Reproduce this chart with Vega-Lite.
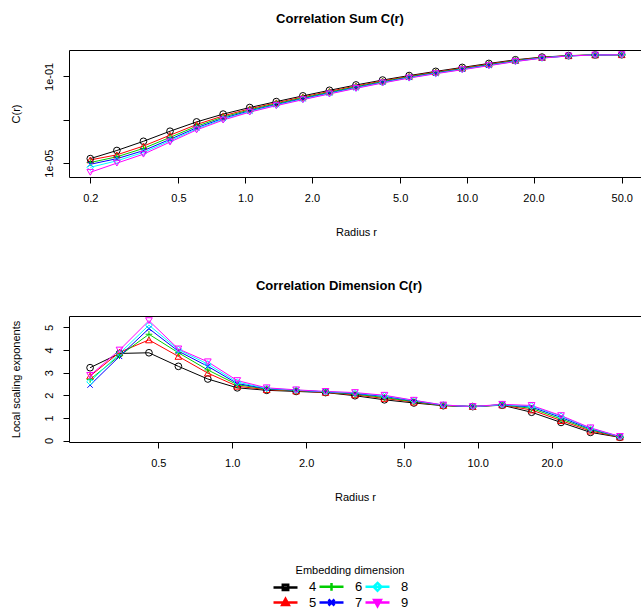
{
  "$schema": "https://vega.github.io/schema/vega-lite/v6.json",
  "background": "white",
  "padding": {"left": 9, "top": 12, "right": 0, "bottom": 0},
  "datasets": {
    "cs": [
      {"r":0.2,"d":"4","c":1.622e-5},{"r":0.26359,"d":"4","c":3.842e-5},{"r":0.3474,"d":"4","c":1.020e-4},{"r":0.45786,"d":"4","c":2.969e-4},{"r":0.60343,"d":"4","c":7.986e-4},{"r":0.79529,"d":"4","c":1.829e-3},{"r":1.04816,"d":"4","c":3.674e-3},{"r":1.38144,"d":"4","c":6.889e-3},{"r":1.82067,"d":"4","c":1.264e-2},{"r":2.39955,"d":"4","c":2.286e-2},{"r":3.16228,"d":"4","c":4.027e-2},{"r":4.16774,"d":"4","c":6.789e-2},{"r":5.49286,"d":"4","c":0.1095},{"r":7.2393,"d":"4","c":0.1703},{"r":9.54098,"d":"4","c":0.2593},{"r":12.5745,"d":"4","c":0.3957},{"r":16.5725,"d":"4","c":0.5834},{"r":21.8417,"d":"4","c":0.7745},{"r":28.7862,"d":"4","c":0.9091},{"r":37.9386,"d":"4","c":0.9741},{"r":50.0,"d":"4","c":1.0},
      {"r":0.2,"d":"5","c":1.413e-5},{"r":0.26359,"d":"5","c":2.419e-5},{"r":0.3474,"d":"5","c":6.146e-5},{"r":0.45786,"d":"5","c":1.948e-4},{"r":0.60343,"d":"5","c":6.023e-4},{"r":0.79529,"d":"5","c":1.520e-3},{"r":1.04816,"d":"5","c":3.196e-3},{"r":1.38144,"d":"5","c":6.076e-3},{"r":1.82067,"d":"5","c":1.122e-2},{"r":2.39955,"d":"5","c":2.038e-2},{"r":3.16228,"d":"5","c":3.615e-2},{"r":4.16774,"d":"5","c":6.180e-2},{"r":5.49286,"d":"5","c":0.1011},{"r":7.2393,"d":"5","c":0.1583},{"r":9.54098,"d":"5","c":0.2413},{"r":12.5745,"d":"5","c":0.3688},{"r":16.5725,"d":"5","c":0.5521},{"r":21.8417,"d":"5","c":0.7513},{"r":28.7862,"d":"5","c":0.8991},{"r":37.9386,"d":"5","c":0.9727},{"r":50.0,"d":"5","c":1.0},
      {"r":0.2,"d":"6","c":1.072e-5},{"r":0.26359,"d":"6","c":1.969e-5},{"r":0.3474,"d":"6","c":4.800e-5},{"r":0.45786,"d":"6","c":1.543e-4},{"r":0.60343,"d":"6","c":5.047e-4},{"r":0.79529,"d":"6","c":1.327e-3},{"r":1.04816,"d":"6","c":2.873e-3},{"r":1.38144,"d":"6","c":5.531e-3},{"r":1.82067,"d":"6","c":1.027e-2},{"r":2.39955,"d":"6","c":1.873e-2},{"r":3.16228,"d":"6","c":3.342e-2},{"r":4.16774,"d":"6","c":5.768e-2},{"r":5.49286,"d":"6","c":9.511e-2},{"r":7.2393,"d":"6","c":0.1494},{"r":9.54098,"d":"6","c":0.2277},{"r":12.5745,"d":"6","c":0.3485},{"r":16.5725,"d":"6","c":0.5275},{"r":21.8417,"d":"6","c":0.7318},{"r":28.7862,"d":"6","c":0.8904},{"r":37.9386,"d":"6","c":0.9714},{"r":50.0,"d":"6","c":1.0},
      {"r":0.2,"d":"7","c":8.913e-6},{"r":0.26359,"d":"7","c":1.616e-5},{"r":0.3474,"d":"7","c":3.789e-5},{"r":0.45786,"d":"7","c":1.256e-4},{"r":0.60343,"d":"7","c":4.294e-4},{"r":0.79529,"d":"7","c":1.166e-3},{"r":1.04816,"d":"7","c":2.598e-3},{"r":1.38144,"d":"7","c":5.049e-3},{"r":1.82067,"d":"7","c":9.415e-3},{"r":2.39955,"d":"7","c":1.722e-2},{"r":3.16228,"d":"7","c":3.089e-2},{"r":4.16774,"d":"7","c":5.390e-2},{"r":5.49286,"d":"7","c":8.987e-2},{"r":7.2393,"d":"7","c":0.1420},{"r":9.54098,"d":"7","c":0.2167},{"r":12.5745,"d":"7","c":0.3316},{"r":16.5725,"d":"7","c":0.5061},{"r":21.8417,"d":"7","c":0.7148},{"r":28.7862,"d":"7","c":0.8831},{"r":37.9386,"d":"7","c":0.9701},{"r":50.0,"d":"7","c":1.0},
      {"r":0.2,"d":"8","c":6.457e-6},{"r":0.26359,"d":"8","c":1.286e-5},{"r":0.3474,"d":"8","c":3.136e-5},{"r":0.45786,"d":"8","c":1.080e-4},{"r":0.60343,"d":"8","c":3.807e-4},{"r":0.79529,"d":"8","c":1.058e-3},{"r":1.04816,"d":"8","c":2.411e-3},{"r":1.38144,"d":"8","c":4.738e-3},{"r":1.82067,"d":"8","c":8.872e-3},{"r":2.39955,"d":"8","c":1.627e-2},{"r":3.16228,"d":"8","c":2.931e-2},{"r":4.16774,"d":"8","c":5.150e-2},{"r":5.49286,"d":"8","c":8.646e-2},{"r":7.2393,"d":"8","c":0.1372},{"r":9.54098,"d":"8","c":0.2096},{"r":12.5745,"d":"8","c":0.3208},{"r":16.5725,"d":"8","c":0.4922},{"r":21.8417,"d":"8","c":0.7040},{"r":28.7862,"d":"8","c":0.8794},{"r":37.9386,"d":"8","c":0.9701},{"r":50.0,"d":"8","c":1.0},
      {"r":0.2,"d":"9","c":3.802e-6},{"r":0.26359,"d":"9","c":1.006e-5},{"r":0.3474,"d":"9","c":2.603e-5},{"r":0.45786,"d":"9","c":9.406e-5},{"r":0.60343,"d":"9","c":3.423e-4},{"r":0.79529,"d":"9","c":9.687e-4},{"r":1.04816,"d":"9","c":2.259e-3},{"r":1.38144,"d":"9","c":4.496e-3},{"r":1.82067,"d":"9","c":8.453e-3},{"r":2.39955,"d":"9","c":1.554e-2},{"r":3.16228,"d":"9","c":2.812e-2},{"r":4.16774,"d":"9","c":4.968e-2},{"r":5.49286,"d":"9","c":8.376e-2},{"r":7.2393,"d":"9","c":0.1330},{"r":9.54098,"d":"9","c":0.2033},{"r":12.5745,"d":"9","c":0.3120},{"r":16.5725,"d":"9","c":0.4822},{"r":21.8417,"d":"9","c":0.6954},{"r":28.7862,"d":"9","c":0.8746},{"r":37.9386,"d":"9","c":0.9687},{"r":50.0,"d":"9","c":1.0}
    ],
    "lse": [
      {"r":0.26359,"d":"4","v":3.22},{"r":0.3474,"d":"4","v":3.85},{"r":0.45786,"d":"4","v":3.88},{"r":0.60343,"d":"4","v":3.28},{"r":0.79529,"d":"4","v":2.72},{"r":1.04816,"d":"4","v":2.33},{"r":1.38144,"d":"4","v":2.22},{"r":1.82067,"d":"4","v":2.17},{"r":2.39955,"d":"4","v":2.12},{"r":3.16228,"d":"4","v":1.98},{"r":4.16774,"d":"4","v":1.80},{"r":5.49286,"d":"4","v":1.66},{"r":7.2393,"d":"4","v":1.54},{"r":9.54098,"d":"4","v":1.50},{"r":12.5745,"d":"4","v":1.56},{"r":16.5725,"d":"4","v":1.25},{"r":21.8417,"d":"4","v":0.80},{"r":28.7862,"d":"4","v":0.36},{"r":37.9386,"d":"4","v":0.14},
      {"r":0.26359,"d":"5","v":2.85},{"r":0.3474,"d":"5","v":3.90},{"r":0.45786,"d":"5","v":4.45},{"r":0.60343,"d":"5","v":3.72},{"r":0.79529,"d":"5","v":2.98},{"r":1.04816,"d":"5","v":2.40},{"r":1.38144,"d":"5","v":2.25},{"r":1.82067,"d":"5","v":2.19},{"r":2.39955,"d":"5","v":2.13},{"r":3.16228,"d":"5","v":2.02},{"r":4.16774,"d":"5","v":1.86},{"r":5.49286,"d":"5","v":1.70},{"r":7.2393,"d":"5","v":1.55},{"r":9.54098,"d":"5","v":1.50},{"r":12.5745,"d":"5","v":1.57},{"r":16.5725,"d":"5","v":1.35},{"r":21.8417,"d":"5","v":0.88},{"r":28.7862,"d":"5","v":0.42},{"r":37.9386,"d":"5","v":0.15},
      {"r":0.26359,"d":"6","v":2.70},{"r":0.3474,"d":"6","v":3.75},{"r":0.45786,"d":"6","v":4.70},{"r":0.60343,"d":"6","v":3.88},{"r":0.79529,"d":"6","v":3.12},{"r":1.04816,"d":"6","v":2.47},{"r":1.38144,"d":"6","v":2.27},{"r":1.82067,"d":"6","v":2.21},{"r":2.39955,"d":"6","v":2.14},{"r":3.16228,"d":"6","v":2.05},{"r":4.16774,"d":"6","v":1.90},{"r":5.49286,"d":"6","v":1.72},{"r":7.2393,"d":"6","v":1.55},{"r":9.54098,"d":"6","v":1.50},{"r":12.5745,"d":"6","v":1.58},{"r":16.5725,"d":"6","v":1.42},{"r":21.8417,"d":"6","v":0.95},{"r":28.7862,"d":"6","v":0.47},{"r":37.9386,"d":"6","v":0.16},
      {"r":0.26359,"d":"7","v":2.45},{"r":0.3474,"d":"7","v":3.72},{"r":0.45786,"d":"7","v":4.95},{"r":0.60343,"d":"7","v":3.95},{"r":0.79529,"d":"7","v":3.28},{"r":1.04816,"d":"7","v":2.52},{"r":1.38144,"d":"7","v":2.29},{"r":1.82067,"d":"7","v":2.22},{"r":2.39955,"d":"7","v":2.15},{"r":3.16228,"d":"7","v":2.08},{"r":4.16774,"d":"7","v":1.95},{"r":5.49286,"d":"7","v":1.75},{"r":7.2393,"d":"7","v":1.56},{"r":9.54098,"d":"7","v":1.50},{"r":12.5745,"d":"7","v":1.58},{"r":16.5725,"d":"7","v":1.48},{"r":21.8417,"d":"7","v":1.02},{"r":28.7862,"d":"7","v":0.51},{"r":37.9386,"d":"7","v":0.17},
      {"r":0.26359,"d":"8","v":2.60},{"r":0.3474,"d":"8","v":3.85},{"r":0.45786,"d":"8","v":5.10},{"r":0.60343,"d":"8","v":4.02},{"r":0.79529,"d":"8","v":3.38},{"r":1.04816,"d":"8","v":2.58},{"r":1.38144,"d":"8","v":2.31},{"r":1.82067,"d":"8","v":2.23},{"r":2.39955,"d":"8","v":2.16},{"r":3.16228,"d":"8","v":2.10},{"r":4.16774,"d":"8","v":1.98},{"r":5.49286,"d":"8","v":1.77},{"r":7.2393,"d":"8","v":1.57},{"r":9.54098,"d":"8","v":1.50},{"r":12.5745,"d":"8","v":1.58},{"r":16.5725,"d":"8","v":1.52},{"r":21.8417,"d":"8","v":1.07},{"r":28.7862,"d":"8","v":0.54},{"r":37.9386,"d":"8","v":0.17},
      {"r":0.26359,"d":"9","v":2.88},{"r":0.3474,"d":"9","v":4.00},{"r":0.45786,"d":"9","v":5.30},{"r":0.60343,"d":"9","v":4.05},{"r":0.79529,"d":"9","v":3.48},{"r":1.04816,"d":"9","v":2.65},{"r":1.38144,"d":"9","v":2.33},{"r":1.82067,"d":"9","v":2.24},{"r":2.39955,"d":"9","v":2.17},{"r":3.16228,"d":"9","v":2.12},{"r":4.16774,"d":"9","v":2.00},{"r":5.49286,"d":"9","v":1.78},{"r":7.2393,"d":"9","v":1.57},{"r":9.54098,"d":"9","v":1.50},{"r":12.5745,"d":"9","v":1.60},{"r":16.5725,"d":"9","v":1.55},{"r":21.8417,"d":"9","v":1.10},{"r":28.7862,"d":"9","v":0.56},{"r":37.9386,"d":"9","v":0.18}
    ]
  },
  "spacing": 41,
  "vconcat": [
    {
      "width": 574,
      "height": 127,
      "title": {"text": "Correlation Sum C(r)", "fontSize": 13, "fontWeight": "bold", "anchor": "middle", "offset": 23, "dx": -16},
      "data": {"name": "cs"},
      "layer": [
        {
          "mark": {"type": "line", "strokeWidth": 1},
          "encoding": {
            "x": {"field": "r", "type": "quantitative", "scale": {"type": "log", "domain": [0.1603, 62.37], "nice": false, "zero": false}, "axis": {"title": "Radius r", "values": [0.2, 0.5, 1, 2, 5, 10, 20, 50], "format": ".1f", "labelOverlap": false}},
            "y": {"field": "c", "type": "quantitative", "scale": {"type": "log", "domain": [2.307e-6, 1.648], "nice": false, "zero": false}, "axis": {"title": "C(r)", "values": [1e-5, 1e-3, 1e-1], "labelOverlap": false, "labelExpr": "datum.value < 1e-4 ? '1e-05' : (datum.value > 1e-2 ? '1e-01' : '')"}},
            "color": {
              "field": "d", "type": "nominal",
              "scale": {"domain": ["4", "6", "8", "5", "7", "9"], "range": ["#000000", "#00CD00", "#00FFFF", "#FF0000", "#0000FF", "#FF00FF"]},
              "legend": {
                "title": "Embedding dimension",
                "encode": {"symbols": {"update": {"shape": {"signal": "datum.value === '4' ? 'M-8,0H0M-4.9,-0.9H-3.1V0.9H-4.9Z' : datum.value === '5' ? 'M-8,0H0M-4,-1.2L-2.9,0.8H-5.1Z' : datum.value === '6' ? 'M-8,0H0M-4,-1.3V1.3' : datum.value === '7' ? 'M-8,0H0M-5,-1L-3,1M-5,1L-3,-1' : datum.value === '8' ? 'M-8,0H0M-4,-1.3L-2.7,0L-4,1.3L-5.3,0Z' : 'M-8,0H0M-4,1.2L-2.9,-0.8H-5.1Z'"}}}}
              }
            },
            "detail": {"field": "d"}
          }
        },
        {
          "mark": {"type": "point", "filled": false, "strokeWidth": 1, "size": 45, "opacity": 1},
          "encoding": {
            "x": {"field": "r", "type": "quantitative", "axis": {"title": "Radius r", "values": [0.2, 0.5, 1, 2, 5, 10, 20, 50], "format": ".1f", "labelOverlap": false}},
            "y": {"field": "c", "type": "quantitative", "axis": {"title": "C(r)", "values": [1e-5, 1e-3, 1e-1], "labelOverlap": false, "labelExpr": "datum.value < 1e-4 ? '1e-05' : (datum.value > 1e-2 ? '1e-01' : '')"}},
            "color": {"field": "d", "type": "nominal"},
            "shape": {
              "field": "d", "type": "nominal",
              "scale": {"range": ["circle", "triangle-up", "M-1,0H1M0,-1V1", "M-0.8,-0.8L0.8,0.8M-0.8,0.8L0.8,-0.8", "M0,-1L1,0L0,1L-1,0Z", "triangle-down"]},
              "legend": null
            }
          }
        }
      ]
    },
    {
      "width": 572,
      "height": 126,
      "title": {"text": "Correlation Dimension C(r)", "fontSize": 13, "fontWeight": "bold", "anchor": "middle", "offset": 23, "dx": -16},
      "data": {"name": "lse"},
      "layer": [
        {
          "mark": {"type": "line", "strokeWidth": 1},
          "encoding": {
            "x": {"field": "r", "type": "quantitative", "scale": {"type": "log", "domain": [0.2163, 46.24], "nice": false, "zero": false}, "axis": {"title": "Radius r", "values": [0.5, 1, 2, 5, 10, 20], "format": ".1f", "labelOverlap": false}},
            "y": {"field": "v", "type": "quantitative", "scale": {"domain": [-0.066, 5.506], "nice": false, "zero": false}, "axis": {"title": "Local scaling exponents", "values": [0, 1, 2, 3, 4, 5], "tickCount": 6, "format": "d", "labelOverlap": false, "labelSeparation": 0}},
            "color": {"field": "d", "type": "nominal"},
            "detail": {"field": "d"}
          }
        },
        {
          "mark": {"type": "point", "filled": false, "strokeWidth": 1, "size": 45, "opacity": 1},
          "encoding": {
            "x": {"field": "r", "type": "quantitative", "axis": {"title": "Radius r", "values": [0.5, 1, 2, 5, 10, 20], "format": ".1f", "labelOverlap": false}},
            "y": {"field": "v", "type": "quantitative", "axis": {"title": "Local scaling exponents", "values": [0, 1, 2, 3, 4, 5], "tickCount": 6, "format": "d", "labelOverlap": false, "labelSeparation": 0}},
            "color": {"field": "d", "type": "nominal"},
            "shape": {"field": "d", "type": "nominal", "legend": null}
          }
        }
      ]
    }
  ],
  "config": {
    "font": "Liberation Sans",
    "view": {"stroke": "#000000", "strokeWidth": 1},
    "title": {"color": "#000000", "font": "Liberation Sans"},
    "axis": {
      "domain": false, "grid": false, "ticks": true, "tickSize": 6, "tickColor": "#000000", "tickWidth": 1,
      "labelColor": "#000000", "labelFont": "Liberation Sans", "labelFontSize": 11,
      "titleColor": "#000000", "titleFont": "Liberation Sans", "titleFontSize": 11, "titleFontWeight": "normal"
    },
    "axisX": {"labelPadding": 9, "titlePadding": 23, "labelFlush": false, "labelOverlap": false},
    "axisY": {"labelAngle": 270, "labelAlign": "center", "labelBaseline": "bottom", "labelPadding": 9, "titlePadding": 22, "labelOverlap": false},
    "legend": {
      "orient": "none", "legendX": 222, "legendY": 515, "columns": 3, "direction": "horizontal",
      "symbolSize": 36, "symbolStrokeWidth": 2.5, "labelOffset": 5, "labelFontSize": 13, "labelColor": "#000000", "labelFont": "Liberation Sans",
      "titleFontSize": 11, "titleFontWeight": "normal", "titleColor": "#000000", "titleFont": "Liberation Sans", "titleAnchor": "middle", "titlePadding": 4,
      "columnPadding": -3, "rowPadding": -4, "padding": 0
    }
  }
}
